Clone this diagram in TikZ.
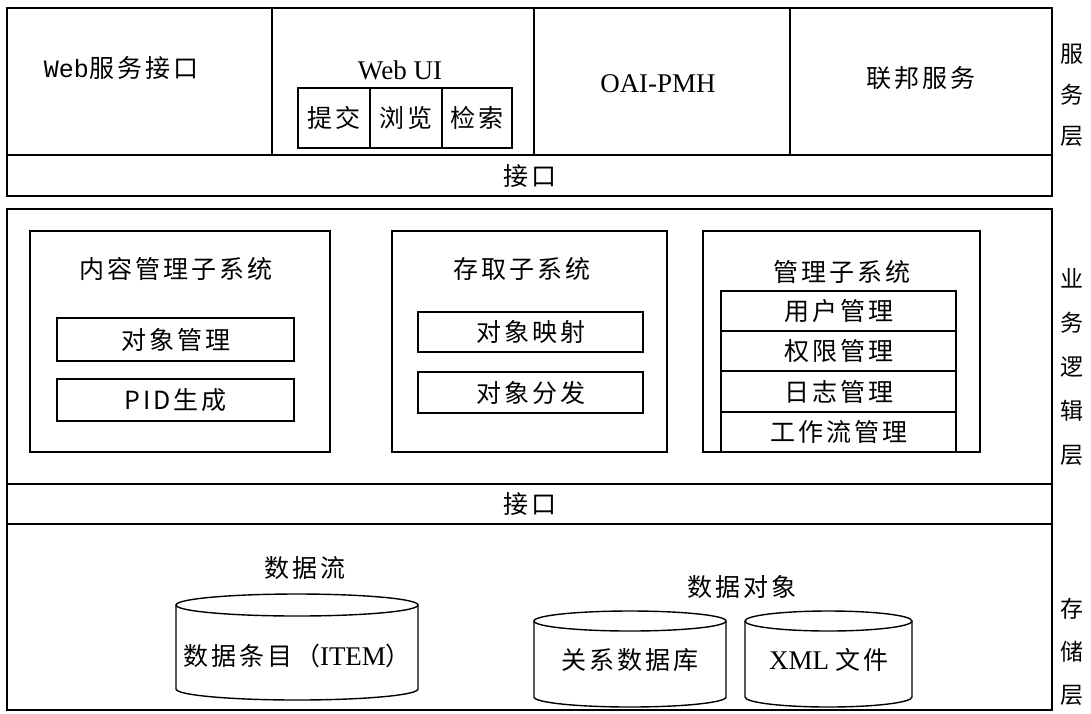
\documentclass[tikz,border=0pt]{standalone}
\usepackage{fontspec}
\setmainfont{Liberation Serif}
\newfontfamily\cjkfont{Noto Sans CJK SC}[LetterSpace=12]
\newfontfamily\webmono{Liberation Mono}
\newcommand\zhtxt[1]{{\cjkfont\fontsize{25}{29}\selectfont #1}}
\newcommand\mkbox[6][]{\node[bx,#1,minimum width={(#5-#3)*1pt},minimum height={(#6-#4)*1pt}] (#2) at ({(#3+#5)/2},{(#4+#6)/2}) {};}
\newcommand\mkcyl[5]{%
  \draw[cyl] (#1,#3) -- (#1,#4) arc[start angle=180,end angle=360,x radius={(#2-#1)/2*1pt},y radius=#5pt] -- (#2,#3);
  \draw[cyl] ({(#1+#2)/2},#3) ellipse[x radius={(#2-#1)/2*1pt}, y radius=#5pt];}
\begin{document}
\begin{tikzpicture}[x=1pt,y=-1pt,
  bx/.style={draw, line width=1.8pt, inner sep=0pt, outer sep=0pt, rectangle},
  ib/.style={line width=1.4pt},
  cyl/.style={draw, line width=1.4pt},
  zh/.style={inner sep=0pt, font=\cjkfont\fontsize{25}{29}\selectfont},
  lat/.style={inner sep=0pt, font=\fontsize{27}{31}\selectfont},
  side/.style={inner sep=0pt, align=center, font=\cjkfont\fontsize{23}{41}\selectfont}]
\path[use as bounding box, fill=white] (0,0) rectangle (1091,713);

% ---------- service layer ----------
\mkbox{svcA}{7}{8}{272}{155}
\mkbox{svcB}{272}{8}{534}{155}
\mkbox{svcC}{534}{8}{790}{155}
\mkbox{svcD}{790}{8}{1052}{155}
\mkbox{ifA}{7}{155}{1052}{196}
\node[inner sep=0pt] (tWebSvc) at (121,68) {{\webmono\fontsize{25}{29}\selectfont Web}\zhtxt{服务接口}};
\node[lat] (tWebUI) at (400,70) {Web UI};
\node[lat] (tOAI) at (658,84) {OAI-PMH};
\node[zh] (tFed) at (921,78) {联邦服务};
\mkbox[ib]{sub1}{298}{88}{370}{148}
\mkbox[ib]{sub2}{370}{88}{442}{148}
\mkbox[ib]{sub3}{442}{88}{512}{148}
\node[zh] at (sub1) {提交};
\node[zh] at (sub2) {浏览};
\node[zh] at (sub3) {检索};
\node[zh] (tIfA) at (530,176) {接口};
\node[side] (lSvc) at (1072,95) {服\\务\\层};

% ---------- logic layer ----------
\mkbox{logic}{7}{209}{1052}{484}
\mkbox{ifB}{7}{484}{1052}{524}
\mkbox{store}{7}{524}{1052}{710}
\node[zh] (tIfB) at (530,504) {接口};

\mkbox[ib]{cms}{30}{231}{330}{452}
\node[zh] (tCms) at (176,269) {内容管理子系统};
\mkbox[ib]{cms1}{57}{318}{294}{361}
\mkbox[ib]{cms2}{57}{379}{294}{421}
\node[zh] at (cms1) {对象管理};
\node[zh] at (cms2) {PID生成};

\mkbox[ib]{acc}{392}{231}{667}{452}
\node[zh] (tAcc) at (522,269) {存取子系统};
\mkbox[ib]{acc1}{418}{312}{643}{352}
\mkbox[ib]{acc2}{418}{372}{643}{413}
\node[zh] at (acc1) {对象映射};
\node[zh] at (acc2) {对象分发};

\mkbox[ib]{mgt}{703}{231}{980}{452}
\node[zh] (tMgt) at (842,272) {管理子系统};
\mkbox[ib]{mgt1}{721}{291}{956}{331}
\mkbox[ib]{mgt2}{721}{331}{956}{371}
\mkbox[ib]{mgt3}{721}{371}{956}{412}
\mkbox[ib]{mgt4}{721}{412}{956}{452}
\node[zh] at (mgt1) {用户管理};
\node[zh] at (mgt2) {权限管理};
\node[zh] at (mgt3) {日志管理};
\node[zh] at (mgt4) {工作流管理};

\node[side, font=\cjkfont\fontsize{23}{44}\selectfont] (lLogic) at (1072,367) {业\\务\\逻\\辑\\层};

% ---------- storage layer ----------
\node[zh] (tFlow) at (305,568) {数据流};
\mkcyl{176}{418}{605}{689}{11}
\node[inner sep=0pt] (tItem) at (297,656) {\zhtxt{数据条目（}{\fontsize{27}{31}\selectfont ITEM}\zhtxt{）}};
\node[zh] (tObj) at (742,587) {数据对象};
\mkcyl{534}{726}{621}{697}{10}
\mkcyl{745}{912}{621}{697}{10}
\node[zh] (tRdb) at (630,660) {关系数据库};
\node[inner sep=0pt] (tXml) at (829,660) {{\fontsize{27}{31}\selectfont XML }\zhtxt{文件}};
\node[side, font=\cjkfont\fontsize{23}{43}\selectfont] (lStore) at (1072,652) {存\\储\\层};
\end{tikzpicture}
\end{document}
